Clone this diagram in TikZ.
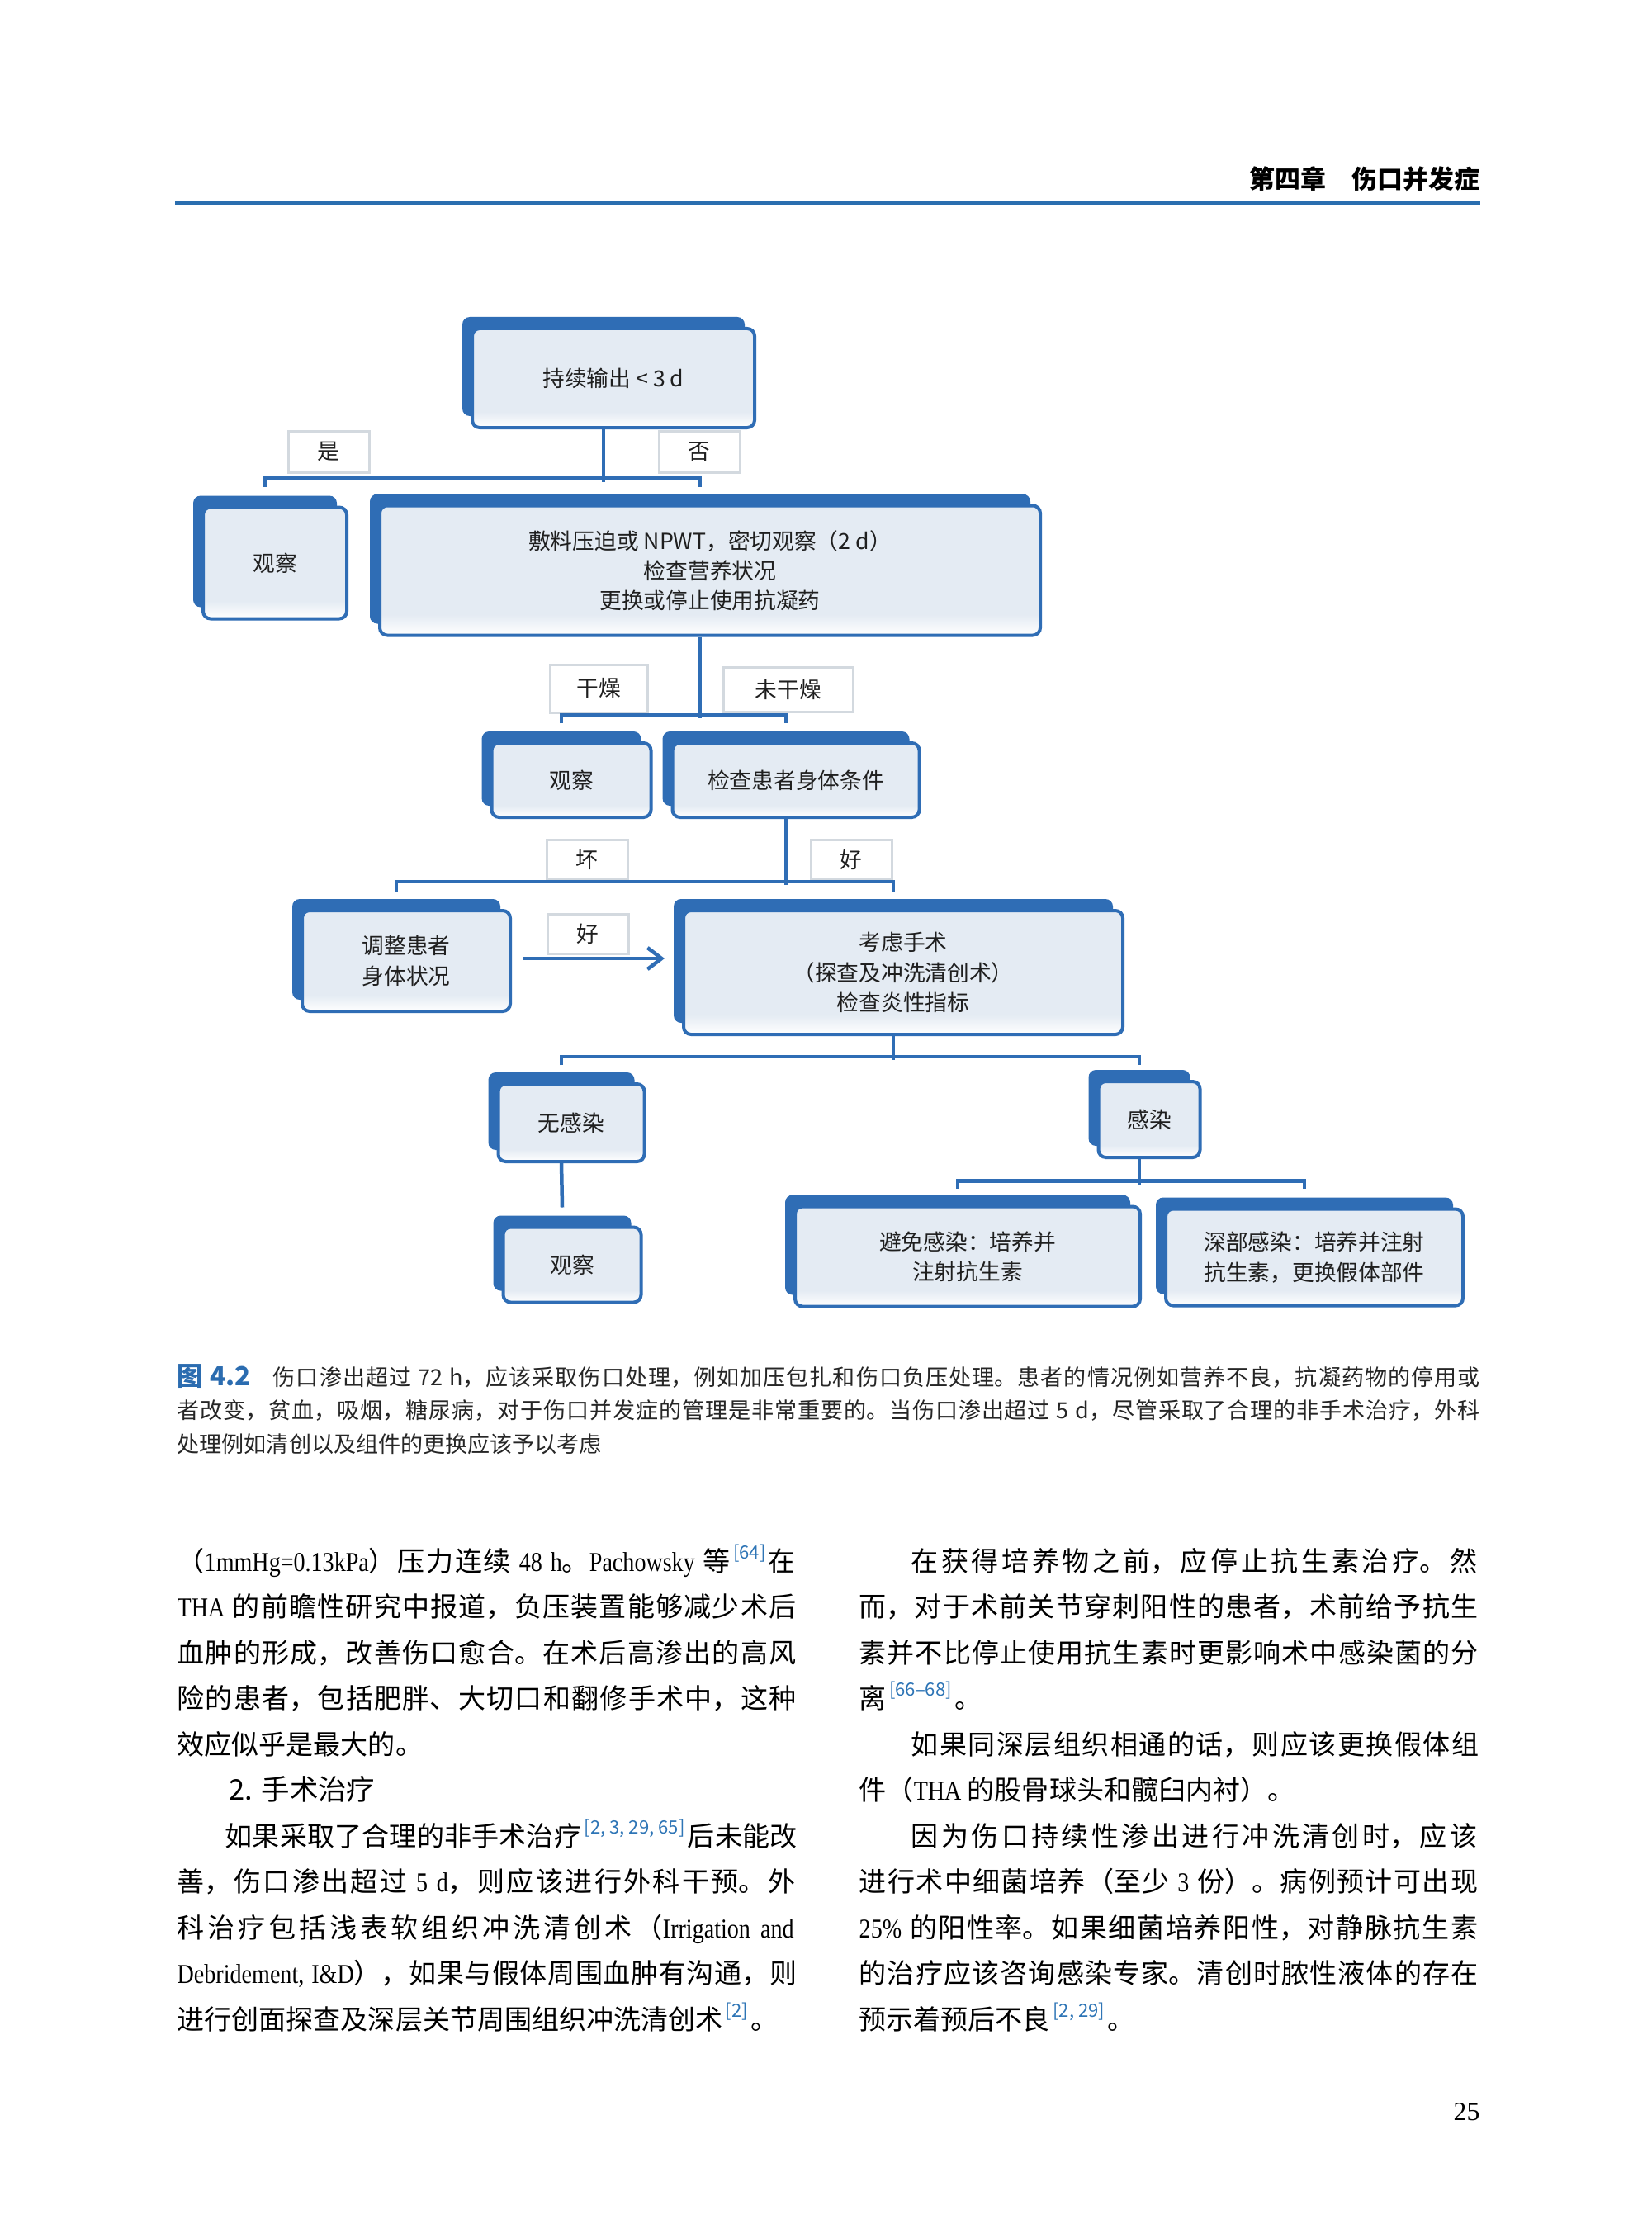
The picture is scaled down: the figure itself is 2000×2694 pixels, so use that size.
\documentclass[tikz,border=0pt]{standalone}
\usepackage{fontspec}
\setmainfont{Noto Sans CJK SC}
\newfontfamily\lat[FakeStretch=0.85]{Liberation Serif}
\newfontfamily\pagefont{Liberation Serif}
\usetikzlibrary{positioning,shadows,arrows.meta}

\definecolor{boxblue}{HTML}{2F6DB5}
\definecolor{boxfill}{HTML}{E4EBF3}
\definecolor{labgray}{HTML}{D3D9DF}
\definecolor{headblue}{HTML}{2A6EAF}
\definecolor{capblue}{HTML}{2B6CB0}
\definecolor{refblue}{HTML}{2E75B6}

\newlength\px
\setlength\px{0.1mm}
\pgfdeclareverticalshading{boxshade}{100bp}{color(0bp)=(white); color(25bp)=(white); color(33bp)=(boxfill); color(100bp)=(boxfill)}

\newcommand\refnum[1]{\hspace{0.1em}\raisebox{0.45em}{\spaceskip=0pt\fontsize{6.3pt}{7pt}\selectfont\color{refblue}[#1]}\hspace{0.1em}}
\newcommand\justline{\parindent=0pt\parfillskip=0pt\tolerance=10000\hbadness=10000\spaceskip=0.25em plus 1fil minus 0.05em\XeTeXlinebreaklocale "zh"\XeTeXlinebreakskip=0pt plus 1fil minus 0.05em\relax}

\tikzset{
  card/.style={rounded corners=0.9mm, draw=boxblue, line width=0.4mm, shade, shading=boxshade,
    general shadow={fill=boxblue, shadow xshift=-1.2mm, shadow yshift=1.4mm},
    font=\fontsize{7.6pt}{10.3pt}\selectfont, text=black!88, align=center, inner sep=0pt},
  tagbox/.style={draw=labgray, line width=0.3mm, fill=white, minimum width=98\px, minimum height=50\px,
    font=\fontsize{7.6pt}{10.3pt}\selectfont, text=black!88, inner sep=0pt},
  link/.style={draw=boxblue, line width=0.45mm},
  goarrow/.style={link, -{Straight Barb[length=1.7mm, width=2.6mm]}},
  bodytext/.style={anchor=base west, inner sep=0pt, font=\fontsize{9.4pt}{12pt}\selectfont},
  bodyline/.style={bodytext, text width=751\px, align=justify},
  indline/.style={bodytext, text width=689\px, align=justify},
  captext/.style={anchor=base west, inner sep=0pt, font=\fontsize{7.7pt}{10pt}\selectfont, text=black!85},
  capline/.style={captext, text width=1579\px, align=justify}
}

\begin{document}
\begin{tikzpicture}[x=0.1mm, y=-0.1mm]

	\fill[white] (0,0) rectangle (2000,2694);
	\useasboundingbox (0,0) rectangle (2000,2694);

	% Header
	\node[anchor=base east, inner sep=0pt, font=\fontsize{8.8pt}{10pt}\selectfont\bfseries] (chap) at (1793,229) {第四章\hspace{1em}伤口并发症};
	\draw[draw=headblue, line width=0.4mm] (212,246) -- (1793,246);

	% Boxes
	\node[card, minimum width=342\px, minimum height=120\px] (hold) at (743,458) {持续输出 < 3 d};
	\node[card, minimum width=174\px, minimum height=135\px] (watch1) at (333,682) {观察};
	\node[card, minimum width=800\px, minimum height=157\px] (dress) at (860,691) {敷料压迫或 NPWT，密切观察（2 d）\\检查营养状况\\更换或停止使用抗凝药};
	\node[card, minimum width=193\px, minimum height=90\px] (watch2) at (692,945) {观察};
	\node[card, minimum width=299\px, minimum height=90\px] (check) at (964,945) {检查患者身体条件};
	\node[card, minimum width=252\px, minimum height=122\px] (adjust) at (492,1164) {调整患者\\身体状况};
	\node[card, minimum width=532\px, minimum height=150\px] (surg) at (1094,1178) {考虑手术\\（探查及冲洗清创术）\\检查炎性指标};
	\node[card, minimum width=177\px, minimum height=94\px] (noinf) at (692,1360) {无感染};
	\node[card, minimum width=123\px, minimum height=92\px] (inf) at (1392,1356) {感染};
	\node[card, minimum width=167\px, minimum height=91\px] (watch3) at (693,1532) {观察};
	\node[card, minimum width=418\px, minimum height=121\px] (shallow) at (1172,1522) {避免感染：培养并\\注射抗生素};
	\node[card, minimum width=360\px, minimum height=117\px] (deep) at (1592,1523) {深部感染：培养并注射\\抗生素，更换假体部件};

	% Branch labels
	\node[tagbox] (yes) at (398,547) {是};
	\node[tagbox] (no) at (847,547) {否};
	\node[tagbox, minimum width=118\px, minimum height=58\px] (dry) at (725,834) {干燥};
	\node[tagbox, minimum width=157\px, minimum height=54\px] (wet) at (955,835) {未干燥};
	\node[tagbox, minimum height=48\px] (bad) at (711,1041) {坏};
	\node[tagbox, minimum height=48\px] (good) at (1031,1041) {好};
	\node[tagbox, minimum height=48\px] (good2) at (712,1131) {好};

	% Connectors
	\draw[link] (hold.south) ++(-12,0) -- ++(0,64);
	\draw[link] (watch1.north) ++(-12,-23) -- ++(0,-10) -| ([xshift=-1.2mm, yshift=2.1mm]dress.north);
	\draw[link] (dress.south) ++(-12,0) -- ++(0,98);
	\draw[link] (watch2.north) ++(-12,-22) -- ++(0,-10) -| ([xshift=-1.2mm, yshift=2.2mm]check.north);
	\draw[link] (check.south) ++(-12,0) -- ++(0,80);
	\draw[link] (adjust.north) ++(-12,-21) -- ++(0,-12) -| ([xshift=-1.2mm, yshift=2.1mm]surg.north);
	\draw[goarrow, shorten >=2.1mm] (adjust.east) ++(13,-3) coordinate (a0) -- (a0 -| surg.west);
	\draw[link] (surg.south) ++(-12,0) -- ++(0,29);
	\draw[link] (noinf.north) ++(-12,-21) -- ++(0,-10) -| ([xshift=-1.2mm, yshift=1.8mm]inf.north);
	\draw[link] ([xshift=-1.2mm]noinf.south) -- ([xshift=-1.2mm, yshift=2.2mm]watch3.north);
	\draw[link] (inf.south) ++(-12,0) -- ++(0,31);
	\draw[link] (shallow.north) ++(-12,-20) -- ++(0,-9) -| ([xshift=-1.2mm, yshift=2.3mm]deep.north);

	% Caption
	\node[capline] (cap1) at (214,1678) {\justline\leavevmode{\fontsize{9pt}{10pt}\selectfont\bfseries\color{capblue}图 4.2}\hspace{1em}伤口渗出超过 72 h，应该采取伤口处理，例如加压包扎和伤口负压处理。患者的情况例如营养不良，抗凝药物的停用或};
	\node[capline] (cap2) at (214,1718) {\justline 者改变，贫血，吸烟，糖尿病，对于伤口并发症的管理是非常重要的。当伤口渗出超过 5 d，尽管采取了合理的非手术治疗，外科};
	\node[captext] (cap3) at (214,1759) {处理例如清创以及组件的更换应该予以考虑};

	% Left column
	\node[bodyline] (l1) at (214,1903) {\justline（{\lat 1mmHg=0.13kPa}）压力连续{\lat\ 48 h}。{\lat Pachowsky} 等\refnum{64}在};
	\node[bodyline] (l2) at (214,1958) {\justline{\lat THA} 的前瞻性研究中报道，负压装置能够减少术后};
	\node[bodyline] (l3) at (214,2014) {\justline 血肿的形成，改善伤口愈合。在术后高渗出的高风};
	\node[bodyline] (l4) at (214,2069) {\justline 险的患者，包括肥胖、大切口和翻修手术中，这种};
	\node[bodytext] (l5) at (214,2125) {效应似乎是最大的。};
	\node[bodytext, font=\fontsize{9.8pt}{12pt}\selectfont] (l6) at (277,2180) {2. 手术治疗};
	\node[indline, text width=693\px] (l7) at (272,2236) {\justline 如果采取了合理的非手术治疗\refnum{2, 3, 29, 65}后未能改};
	\node[bodyline] (l8) at (214,2291) {\justline 善，伤口渗出超过{\lat\ 5 d}，则应该进行外科干预。外};
	\node[bodyline] (l9) at (214,2347) {\justline 科治疗包括浅表软组织冲洗清创术（{\lat Irrigation and}};
	\node[bodyline] (l10) at (214,2402) {\justline{\lat Debridement, I\&D}），如果与假体周围血肿有沟通，则};
	\node[bodytext] (l11) at (214,2458) {进行创面探查及深层关节周围组织冲洗清创术\refnum{2}。};

	% Right column
	\node[indline] (r1) at (1103,1903) {\justline 在获得培养物之前，应停止抗生素治疗。然};
	\node[bodyline] (r2) at (1040,1958) {\justline 而，对于术前关节穿刺阳性的患者，术前给予抗生};
	\node[bodyline] (r3) at (1040,2014) {\justline 素并不比停止使用抗生素时更影响术中感染菌的分};
	\node[bodytext] (r4) at (1040,2069) {离\refnum{66–68}。};
	\node[indline] (r5) at (1103,2125) {\justline 如果同深层组织相通的话，则应该更换假体组};
	\node[bodytext] (r6) at (1040,2180) {件（{\lat THA} 的股骨球头和髋臼内衬）。};
	\node[indline] (r7) at (1103,2236) {\justline 因为伤口持续性渗出进行冲洗清创时，应该};
	\node[bodyline] (r8) at (1040,2291) {\justline 进行术中细菌培养（至少{\lat\ 3 }份）。病例预计可出现};
	\node[bodyline] (r9) at (1040,2347) {\justline{\lat 25\%} 的阳性率。如果细菌培养阳性，对静脉抗生素};
	\node[bodyline] (r10) at (1040,2402) {\justline 的治疗应该咨询感染专家。清创时脓性液体的存在};
	\node[bodytext] (r11) at (1040,2458) {预示着预后不良\refnum{2, 29}。};

	% Page number
	\node[anchor=base east, inner sep=0pt, font=\pagefont\fontsize{9pt}{10pt}\selectfont] (page) at (1793,2568) {25};
\end{tikzpicture}
\end{document}
